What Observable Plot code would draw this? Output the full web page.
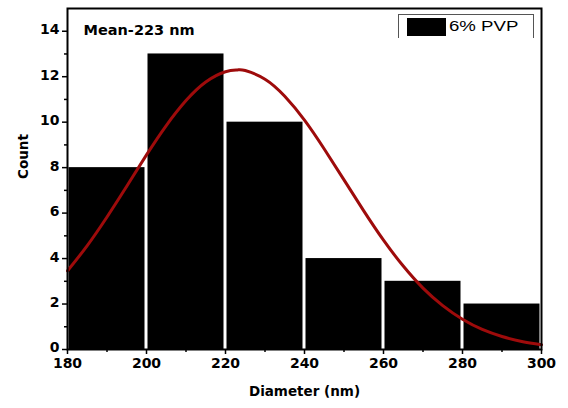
<!DOCTYPE html>
<html><head><meta charset="utf-8">
<script src="https://cdn.jsdelivr.net/npm/d3@7"></script>
<script src="https://cdn.jsdelivr.net/npm/@observablehq/plot@0.6"></script>
<style>
body{margin:0;background:#fff;font-family:"DejaVu Sans",sans-serif;}
#wrap{position:relative;width:568px;height:408px;}
#legend{position:absolute;left:398px;top:14px;width:134px;height:23px;border:1px solid #555;border-bottom:none;}
#legend .sw{position:absolute;left:8px;top:3px;width:39px;height:18px;background:#000;}
#legend .lb{position:absolute;left:50px;top:3px;font-family:"Liberation Sans",Arial,sans-serif;font-size:14px;transform:scaleX(1.33);transform-origin:left center;white-space:nowrap;}
</style>
</head><body>
<div id="wrap"></div>
<script>
const binStart = [180, 200, 220, 240, 260, 280];
const binEnd   = [200, 220, 240, 260, 280, 300];
const counts   = [8, 13, 10, 4, 3, 2];
const fitX = [180,185,190,195,200,205,210,215,220,223,225,230,235,240,245,250,255,260,265,270,275,280,285,290,295,300];
const fitY = [3.46,4.57,5.83,7.18,8.56,9.85,10.95,11.77,12.22,12.3,12.27,11.89,11.14,10.09,8.82,7.46,6.10,4.81,3.67,2.70,1.93,1.33,0.88,0.57,0.35,0.21];
const xMajor = [180,200,220,240,260,280,300];
const xMinor = [190,210,230,250,270,290];
const yMajor = [0,2,4,6,8,10,12,14];
const yMinor = [1,3,5,7,9,11,13];
const seriesName = "6% PVP";
const meanLabel = "Mean-223 nm";

const bins = binStart.map((s,i)=>({x1:s,x2:binEnd[i],y:counts[i]}));
const fit = fitX.map((x,i)=>({x,y:fitY[i]}));

const F = "DejaVu Sans, sans-serif";
const chart = Plot.plot({
  width:568, height:408,
  marginLeft:67, marginRight:27, marginTop:8, marginBottom:59,
  style:{fontFamily:F, fontSize:"14px", fontWeight:"bold", color:"#000"},
  x:{domain:[180,300]},
  y:{domain:[0,15]},
  marks:[
    Plot.rectY(bins,{x1:"x1",x2:"x2",y:"y",fill:"#000",insetLeft:1.5,insetRight:1.5}),
    Plot.line(fit,{x:"x",y:"y",stroke:"#9e0b0b",strokeWidth:3,curve:"natural"}),
    Plot.frame({stroke:"#000",strokeWidth:2}),
    Plot.axisX({ticks:xMajor,tickSize:5,tickPadding:4,label:null,fontWeight:"bold",fontSize:14,strokeWidth:1.5}),
    Plot.axisX({ticks:xMinor,tickSize:3,tickFormat:()=>"",label:null,strokeWidth:1.5}),
    Plot.axisY({ticks:yMajor,tickSize:5,tickFormat:()=>"",label:null,strokeWidth:1.5}),
    Plot.axisY({ticks:yMajor,tickSize:0,tickPadding:8,dy:-1.5,label:null,fontWeight:"bold",fontSize:14}),
    Plot.axisY({ticks:yMinor,tickSize:3,tickFormat:()=>"",label:null,strokeWidth:1.5}),
    Plot.text(["Diameter (nm)"],{frameAnchor:"bottom",dy:46,fontSize:13.5,fontWeight:"bold",fill:"#000"}),
    Plot.text(["Count"],{frameAnchor:"left",dx:-44,rotate:-90,fontSize:13.5,fontWeight:"bold",fill:"#000"}),
    Plot.text([meanLabel],{frameAnchor:"top-left",dx:16,dy:16,fontSize:14.5,fontWeight:"bold",fill:"#000"})
  ]
});
const wrap = document.getElementById("wrap");
wrap.appendChild(chart);
const lg = document.createElement("div");
lg.id="legend";
lg.innerHTML='<div class="sw"></div><div class="lb"></div>';
lg.querySelector(".lb").textContent = seriesName;
wrap.appendChild(lg);
</script>
</body></html>
